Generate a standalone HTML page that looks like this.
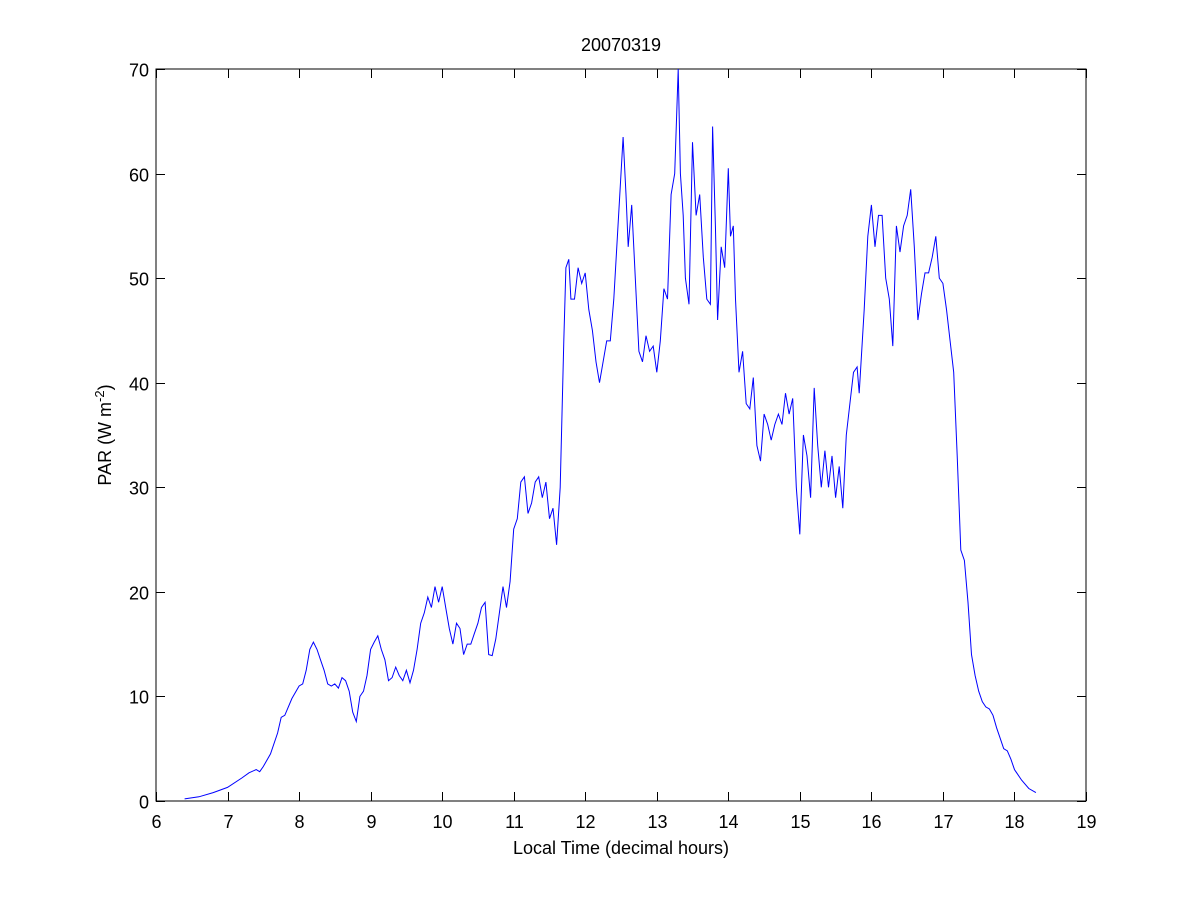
<!DOCTYPE html>
<html><head><meta charset="utf-8"><style>
html,body{margin:0;padding:0;background:#fff;}
svg text{font-family:"Liberation Sans",Arial,sans-serif;font-size:18px;fill:#000;}
</style></head><body>
<svg id="chart" width="1200" height="900" xmlns="http://www.w3.org/2000/svg">
<rect width="1200" height="900" fill="#fff"/>
<g id="axes"></g>
<text x="621" y="51" text-anchor="middle">20070319</text>
<text x="621" y="854" text-anchor="middle">Local Time (decimal hours)</text>
<text transform="translate(111,435) rotate(-90)" text-anchor="middle">PAR (W m<tspan dy="-7" font-size="13">-2</tspan><tspan dy="7">)</tspan></text>
</svg>
<script>
const xTicks=[6,7,8,9,10,11,12,13,14,15,16,17,18,19];
const yTicks=[0,10,20,30,40,50,60,70];
const times=[6.4,6.6,6.8,7.0,7.2,7.3,7.4,7.45,7.5,7.6,7.7,7.75,7.8,7.9,8.0,8.05,8.1,8.15,8.2,8.25,8.3,8.35,8.4,8.45,8.5,8.55,8.6,8.65,8.7,8.75,8.8,8.85,8.9,8.95,9.0,9.05,9.1,9.15,9.2,9.25,9.3,9.35,9.4,9.45,9.5,9.55,9.6,9.65,9.7,9.75,9.8,9.85,9.9,9.95,10.0,10.05,10.1,10.15,10.2,10.25,10.3,10.35,10.4,10.45,10.5,10.55,10.6,10.65,10.7,10.75,10.8,10.85,10.9,10.95,11.0,11.05,11.1,11.15,11.2,11.25,11.3,11.35,11.4,11.45,11.5,11.55,11.6,11.65,11.7,11.73,11.77,11.8,11.85,11.9,11.95,12.0,12.05,12.1,12.15,12.2,12.25,12.3,12.35,12.4,12.45,12.5,12.53,12.57,12.6,12.65,12.7,12.75,12.8,12.85,12.9,12.95,13.0,13.05,13.1,13.15,13.2,13.25,13.3,13.33,13.37,13.4,13.45,13.5,13.55,13.6,13.65,13.7,13.75,13.78,13.82,13.85,13.9,13.95,14.0,14.03,14.07,14.1,14.15,14.2,14.25,14.3,14.35,14.4,14.45,14.5,14.55,14.6,14.65,14.7,14.75,14.8,14.85,14.9,14.95,15.0,15.05,15.1,15.15,15.2,15.25,15.3,15.35,15.4,15.45,15.5,15.55,15.6,15.65,15.7,15.75,15.8,15.83,15.9,15.95,16.0,16.05,16.1,16.15,16.2,16.25,16.3,16.35,16.4,16.45,16.5,16.55,16.6,16.65,16.7,16.75,16.8,16.85,16.9,16.95,17.0,17.05,17.1,17.15,17.2,17.25,17.3,17.35,17.4,17.45,17.5,17.55,17.6,17.65,17.7,17.75,17.8,17.85,17.9,17.95,18.0,18.1,18.2,18.3];
const parValues=[0.2,0.4,0.8,1.3,2.2,2.7,3.0,2.8,3.3,4.5,6.5,8,8.2,9.8,11,11.2,12.5,14.5,15.2,14.5,13.5,12.5,11.2,11,11.2,10.8,11.8,11.5,10.5,8.5,7.6,10,10.5,12,14.5,15.2,15.8,14.5,13.5,11.5,11.8,12.8,12.0,11.5,12.5,11.3,12.5,14.5,17,18,19.5,18.5,20.5,19,20.5,18.5,16.5,15,17,16.5,14,15,15,16,17,18.5,19,14,13.9,15.5,18,20.5,18.5,21,26,27,30.5,31,27.5,28.5,30.5,31,29,30.5,27,28,24.5,30,44,51,51.8,48,48,51,49.5,50.5,47,45,42,40,42,44,44,48,54,60,63.5,58,53,57,50,43,42,44.5,43,43.5,41,44,49,48,58,60,70,60,56,50,47.5,63,56,58,52,48,47.5,64.5,55,46,53,51,60.5,54,55,48,41,43,38,37.5,40.5,34,32.5,37,36,34.5,36,37,36,39,37,38.5,30,25.5,35,33,29,39.5,34,30,33.5,30,33,29,32,28,35,38,41,41.5,39,47,54,57,53,56,56,50,48,43.5,55,52.5,55,56,58.5,53,46,48.5,50.5,50.5,52,54,50,49.5,47,44,41,33,24,23,19,14,12,10.5,9.5,9,8.8,8.2,7,6,5,4.8,4,3,2,1.2,0.8];

const L=156,R=1086,T=69,B=801,xMin=6,xMax=19,yMin=0,yMax=70;
const sx=v=>L+(v-xMin)/(xMax-xMin)*(R-L);
const sy=v=>B-(v-yMin)/(yMax-yMin)*(B-T);
const NS='http://www.w3.org/2000/svg';
const g=document.getElementById('axes');
function mk(tag,attrs){const e=document.createElementNS(NS,tag);for(const k in attrs)e.setAttribute(k,attrs[k]);g.appendChild(e);return e;}
const box=mk('rect',{x:L,y:T,width:R-L,height:B-T,fill:'none',stroke:'#000','stroke-width':1});


xTicks.forEach(t=>{
  const x=Math.round(sx(t))+0.5;
  const a=mk('path',{d:`M${x},${B}V${B-9}M${x},${T}V${T+9}`,stroke:'#000','stroke-width':1});
  
  
  const lb=mk('text',{x:x,y:B+27,'text-anchor':'middle'});lb.textContent=t;
  
  
});
yTicks.forEach(t=>{
  const y=Math.round(sy(t))+0.5;
  const a=mk('path',{d:`M${L},${y}H${L+9}M${R},${y}H${R-9}`,stroke:'#000','stroke-width':1});
  
  
  const lb=mk('text',{x:L-7,y:y+7,'text-anchor':'end'});lb.textContent=t;
  
  
});
const d=times.map((t,i)=>(i?'L':'M')+sx(t).toFixed(1)+','+sy(parValues[i]).toFixed(1)).join('');
const line=mk('path',{d:d,fill:'none',stroke:'#0000ff','stroke-width':1});


</script>
</body></html>
